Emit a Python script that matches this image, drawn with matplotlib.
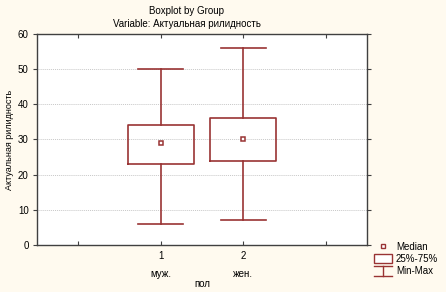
import matplotlib
matplotlib.use("Agg")
import matplotlib.pyplot as plt
from matplotlib.lines import Line2D
from matplotlib.patches import Rectangle

plt.rcParams['font.family'] = ['Liberation Sans', 'DejaVu Sans']

groups = ["1", "2"]
group_names = ["муж.", "жен."]
minimum = [6, 7]
q1 = [23, 24]
median = [29, 30]
q3 = [34, 36]
maximum = [50, 56]

color = '#993333'
bg = '#FFFAEF'

fig = plt.figure(figsize=(4.46, 2.92), dpi=100, facecolor=bg)
ax = fig.add_axes([0.083, 0.161, 0.740, 0.723])
ax.set_facecolor('white')

stats = []
for i in range(len(groups)):
    stats.append(dict(med=median[i], q1=q1[i], q3=q3[i],
                      whislo=minimum[i], whishi=maximum[i], fliers=[],
                      label=groups[i]))
positions = list(range(1, len(groups) + 1))
ax.bxp(stats, positions=positions, widths=0.8, capwidths=0.55,
       showfliers=False, manage_ticks=False,
       boxprops=dict(color=color, linewidth=1.2),
       whiskerprops=dict(color=color, linewidth=1.2),
       capprops=dict(color=color, linewidth=1.2),
       medianprops=dict(linewidth=0))
ax.plot(positions, median, linestyle='none', marker='s', markersize=3.5,
        markerfacecolor='white', markeredgecolor=color, markeredgewidth=1.1,
        zorder=5)

ax.set_xlim(-0.5, 3.5)
ax.set_ylim(0, 60)
ax.set_yticks(range(0, 61, 10))
ax.set_xticks([0, 1, 2, 3])
ax.set_xticklabels(['', f"{groups[0]}\n{group_names[0]}", f"{groups[1]}\n{group_names[1]}", ''],
                   linespacing=2.0)
for y in range(10, 60, 10):
    ax.axhline(y, color='#c8c8c8', linestyle=(0, (1, 1)), linewidth=0.7, zorder=0)

ax.tick_params(axis='x', direction='in', length=3, top=True, labelsize=7,
               color='#404040', pad=4)
ax.tick_params(axis='y', direction='out', length=3, right=True, labelsize=7,
               color='#404040', pad=3)
for sp in ax.spines.values():
    sp.set_color('#404040')
    sp.set_linewidth(1.0)

ax.set_ylabel('Актуальная рилидность', fontsize=6.5, labelpad=2.5)
ax.set_xlabel('пол', fontsize=7, labelpad=0)

fig.text(0.419, 0.962, 'Boxplot by Group', ha='center', va='center', fontsize=7)
fig.text(0.419, 0.918, 'Variable: Актуальная рилидность', ha='center', va='center', fontsize=7)

# legend (figure coordinates, pixels)
W, H = 446, 292
def px(x, y):
    return x / W, 1 - y / H
lx = 383
# median
fig.add_artist(Line2D([px(lx, 0)[0]], [px(0, 246)[1]], marker='s', markersize=3,
                      markerfacecolor='white', markeredgecolor=color,
                      markeredgewidth=1.0, linestyle='none'))
fig.text(px(396, 0)[0], px(0, 247)[1], 'Median', fontsize=7, va='center')
# box
x0, y0 = px(374, 263)
fig.add_artist(Rectangle((x0, y0), 18 / W, 9 / H, facecolor='white',
                         edgecolor=color, linewidth=1.0))
fig.text(px(396, 0)[0], px(0, 259)[1], '25%-75%', fontsize=7, va='center')
# min-max
fig.add_artist(Line2D([px(374, 0)[0], px(392, 0)[0]], [px(0, 266)[1]] * 2,
                      color=color, linewidth=1.0))
fig.add_artist(Line2D([px(383, 0)[0], px(383, 0)[0]], [px(0, 266)[1], px(0, 276)[1]],
                      color=color, linewidth=1.0))
fig.add_artist(Line2D([px(374, 0)[0], px(392, 0)[0]], [px(0, 276)[1]] * 2,
                      color=color, linewidth=1.0))
fig.text(px(396, 0)[0], px(0, 271)[1], 'Min-Max', fontsize=7, va='center')

fig.savefig('out.png', dpi=100, facecolor=bg)
